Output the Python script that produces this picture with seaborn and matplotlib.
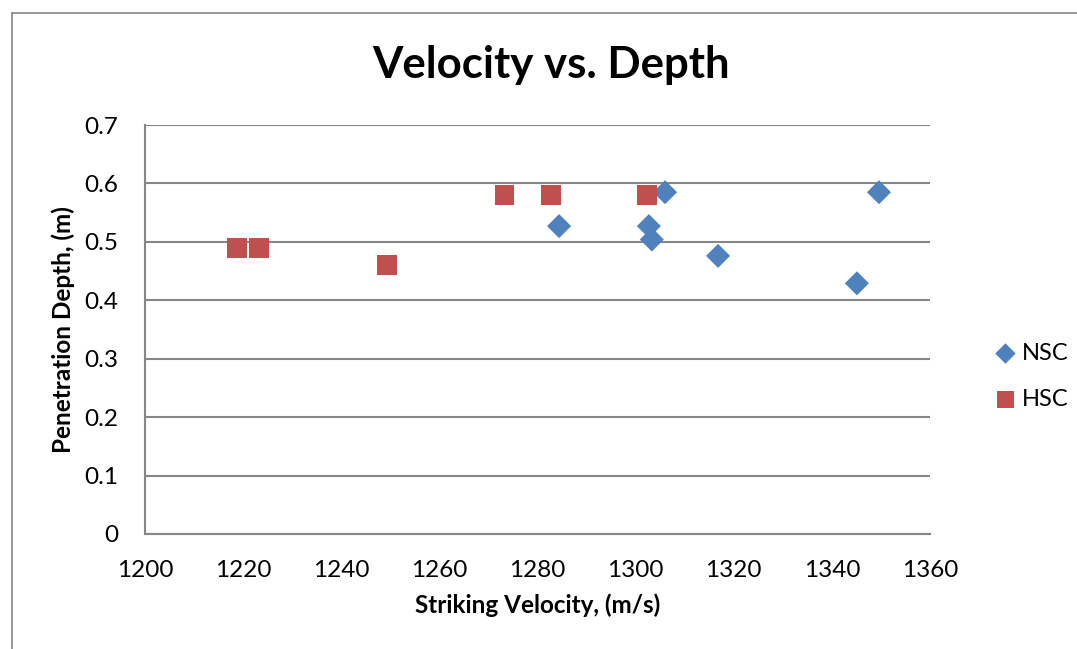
import matplotlib
matplotlib.use('Agg')
import matplotlib.pyplot as plt
import seaborn as sns
import pandas as pd
from matplotlib.lines import Line2D

# data
nsc_velocity = [1284.4, 1302.7, 1303.3, 1306.0, 1316.8, 1345.1, 1349.6]
nsc_depth = [0.527, 0.527, 0.504, 0.585, 0.476, 0.429, 0.585]
hsc_velocity = [1218.7, 1223.3, 1249.3, 1273.3, 1282.8, 1302.3]
hsc_depth = [0.490, 0.490, 0.460, 0.580, 0.580, 0.580]
x_ticks = [1200, 1220, 1240, 1260, 1280, 1300, 1320, 1340, 1360]
y_ticks = [0, 0.1, 0.2, 0.3, 0.4, 0.5, 0.6, 0.7]

nsc = pd.DataFrame({'velocity': nsc_velocity, 'depth': nsc_depth})
hsc = pd.DataFrame({'velocity': hsc_velocity, 'depth': hsc_depth})

sns.set_style('white')
plt.rcParams['font.family'] = ['Lato', 'DejaVu Sans']
plt.rcParams['text.color'] = 'black'
plt.rcParams['axes.labelcolor'] = 'black'
plt.rcParams['xtick.color'] = 'black'
plt.rcParams['ytick.color'] = 'black'

fig = plt.figure(figsize=(10.77, 6.49), dpi=100)
ax = fig.add_axes([145 / 1077, 1 - 534 / 649, 785 / 1077, 409 / 649])

sns.scatterplot(data=nsc, x='velocity', y='depth', marker='D', s=150,
                color='#4F81BD', edgecolor='none', ax=ax, label='NSC', zorder=3)
sns.scatterplot(data=hsc, x='velocity', y='depth', marker='s', s=200,
                color='#C0504D', edgecolor='none', ax=ax, label='HSC', zorder=3)

ax.set_xlim(1200, 1360)
ax.set_ylim(0, 0.7)
ax.set_xticks(x_ticks)
ax.set_yticks(y_ticks)
ax.set_yticklabels(['0', '0.1', '0.2', '0.3', '0.4', '0.5', '0.6', '0.7'])
ax.tick_params(axis='both', labelsize=17.5, length=0)
ax.tick_params(axis='x', pad=19)
ax.tick_params(axis='y', pad=19)
ax.grid(True, axis='y', color='#868686', linewidth=1.5)
ax.set_axisbelow(True)
for side in ['top', 'right']:
    ax.spines[side].set_visible(False)
for side in ['left', 'bottom']:
    ax.spines[side].set_color('#868686')
    ax.spines[side].set_linewidth(1.5)

ax.set_xlabel('Striking Velocity, (m/s)', fontsize=17.5, fontweight='bold', labelpad=9)
ax.set_ylabel('Penetration Depth, (m)', fontsize=17.5, fontweight='bold', labelpad=7)
fig.text(551 / 1077, 1 - 65 / 649, 'Velocity vs. Depth', fontsize=31.5,
         fontweight='bold', ha='center', va='center')

ax.legend(loc='center left', bbox_to_anchor=(1.054, 0.386), frameon=False,
          fontsize=17, handlelength=1.0, handletextpad=0.2,
          labelspacing=1.05, markerscale=0.85)

# outer chart border (left and top edges visible)
fig.add_artist(Line2D([12 / 1077, 12 / 1077], [0, 1 - 13 / 649],
                      color='#868686', linewidth=1.2))
fig.add_artist(Line2D([12 / 1077, 1], [1 - 13 / 649, 1 - 13 / 649],
                      color='#868686', linewidth=1.2))

plt.savefig('out.png', dpi=100)
plt.close()
